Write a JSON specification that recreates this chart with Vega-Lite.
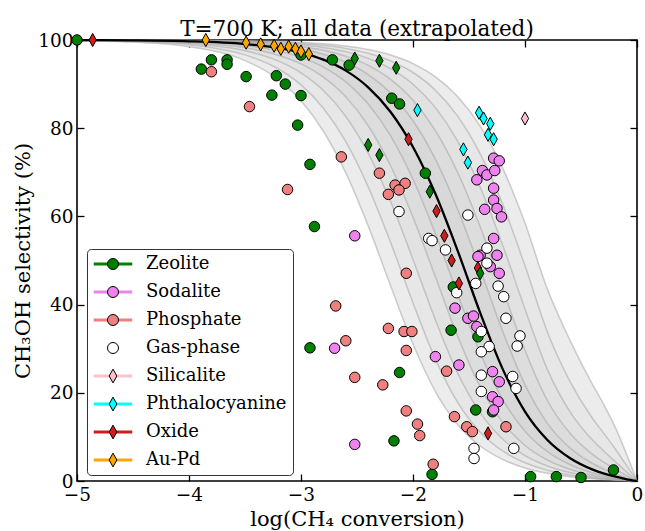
{
  "$schema": "https://vega.github.io/schema/vega-lite/v6.json",
  "width": 560,
  "height": 441,
  "autosize": {"type": "none"},
  "padding": {"left": 77, "top": 40, "right": 8, "bottom": 50},
  "background": "white",
  "title": {"text": "T=700 K; all data (extrapolated)", "font": "DejaVu Serif", "fontSize": 21.5, "fontWeight": "normal", "color": "black", "anchor": "middle", "frame": "group", "offset": -9},
  "config": {
    "view": {"stroke": "black", "strokeWidth": 1.6},
    "axis": {"labelFont": "DejaVu Serif", "labelFontSize": 18.5, "labelColor": "black", "tickColor": "black", "tickWidth": 1.3, "tickSize": -7, "domain": false, "grid": false, "titleFont": "DejaVu Serif", "titleFontSize": 21, "titleFontWeight": "normal", "titleColor": "black", "labelPadding": 11, "labelFlush": false}
  },
  "datasets": {
    "curves": [
      {"x":-5,"k1":99.99,"k2":99.99,"k3":99.99,"k4":99.99,"k5":99.98,"k6":99.97,"k7":99.96,"k8":99.94,"k9":99.92,"k10":99.89,"k11":99.85},
      {"x":-4.5,"k1":99.98,"k2":99.98,"k3":99.97,"k4":99.95,"k5":99.93,"k6":99.91,"k7":99.87,"k8":99.82,"k9":99.75,"k10":99.65,"k11":99.52},
      {"x":-4,"k1":99.94,"k2":99.92,"k3":99.89,"k4":99.85,"k5":99.79,"k6":99.71,"k7":99.6,"k8":99.44,"k9":99.22,"k10":98.91,"k11":98.49},
      {"x":-3.5,"k1":99.83,"k2":99.76,"k3":99.66,"k4":99.53,"k5":99.35,"k6":99.09,"k7":98.73,"k8":98.24,"k9":97.56,"k10":96.62,"k11":95.33},
      {"x":-3.25,"k1":99.69,"k2":99.57,"k3":99.4,"k4":99.17,"k5":98.84,"k6":98.39,"k7":97.76,"k8":96.9,"k9":95.72,"k10":94.1,"k11":91.9},
      {"x":-3,"k1":99.45,"k2":99.23,"k3":98.94,"k4":98.52,"k5":97.95,"k6":97.16,"k7":96.07,"k8":94.58,"k9":92.55,"k10":89.82,"k11":86.2},
      {"x":-2.8,"k1":99.13,"k2":98.79,"k3":98.32,"k4":97.67,"k5":96.77,"k6":95.54,"k7":93.86,"k8":91.58,"k9":88.54,"k10":84.51,"k11":79.31},
      {"x":-2.6,"k1":98.62,"k2":98.09,"k3":97.36,"k4":96.34,"k5":94.95,"k6":93.06,"k7":90.51,"k8":87.11,"k9":82.65,"k10":76.94,"k11":69.88},
      {"x":-2.4,"k1":97.83,"k2":96.98,"k3":95.84,"k4":94.26,"k5":92.14,"k6":89.27,"k7":85.47,"k8":80.55,"k9":74.31,"k10":66.7,"k11":57.85},
      {"x":-2.2,"k1":96.58,"k2":95.28,"k3":93.51,"k4":91.09,"k5":87.91,"k6":83.68,"k7":78.26,"k8":71.49,"k9":63.36,"k10":54.11,"k11":44.27},
      {"x":-2,"k1":94.65,"k2":92.63,"k3":89.97,"k4":86.35,"k5":81.7,"k6":75.74,"k7":68.43,"k8":59.81,"k9":50.25,"k10":40.38,"k11":31.06},
      {"x":-1.8,"k1":91.65,"k2":88.62,"k3":84.66,"k4":79.45,"k5":72.99,"k6":65.12,"k7":56.07,"k8":46.29,"k9":36.53,"k10":27.64,"k11":20.29},
      {"x":-1.6,"k1":87.12,"k2":82.67,"k3":77.03,"k4":69.91,"k5":61.56,"k6":52.12,"k7":42.25,"k8":32.74,"k9":24.42,"k10":17.76,"k11":12.77},
      {"x":-1.4,"k1":80.45,"k2":74.18,"k3":66.61,"k4":57.66,"k5":47.99,"k6":38.14,"k7":29.04,"k8":21.38,"k9":15.44,"k10":11.08,"k11":7.94},
      {"x":-1.2,"k1":71.0,"k2":62.78,"k3":53.53,"k4":43.57,"k5":33.98,"k6":25.42,"k7":18.5,"k8":13.3,"k9":9.52,"k10":6.82,"k11":4.89},
      {"x":-1,"k1":58.49,"k2":48.79,"k3":38.98,"k4":29.66,"k5":21.86,"k6":15.75,"k7":11.28,"k8":8.06,"k9":5.77,"k10":4.13,"k11":2.96},
      {"x":-0.8,"k1":43.51,"k2":33.8,"k3":25.26,"k4":18.25,"k5":13.07,"k6":9.31,"k7":6.65,"k8":4.76,"k9":3.41,"k10":2.44,"k11":1.75},
      {"x":-0.6,"k1":32.0,"k2":22.65,"k3":15.77,"k4":10.87,"k5":7.54,"k6":5.23,"k7":3.74,"k8":2.67,"k9":1.91,"k10":1.37,"k11":0.98},
      {"x":-0.4,"k1":22.0,"k2":14.29,"k3":9.34,"k4":6.1,"k5":4.02,"k6":2.65,"k7":1.89,"k8":1.35,"k9":0.97,"k10":0.69,"k11":0.5},
      {"x":-0.3,"k1":17.5,"k2":10.91,"k3":6.87,"k4":4.32,"k5":2.75,"k6":1.75,"k7":1.25,"k8":0.89,"k9":0.64,"k10":0.46,"k11":0.33},
      {"x":-0.2,"k1":12.5,"k2":7.49,"k3":4.54,"k4":2.74,"k5":1.68,"k6":1.03,"k7":0.73,"k8":0.52,"k9":0.38,"k10":0.27,"k11":0.19},
      {"x":-0.1,"k1":6.5,"k2":3.77,"k3":2.21,"k4":1.3,"k5":0.77,"k6":0.45,"k7":0.32,"k8":0.23,"k9":0.17,"k10":0.12,"k11":0.09},
      {"x":0,"k1":0,"k2":0,"k3":0,"k4":0,"k5":0,"k6":0,"k7":0,"k8":0,"k9":0,"k10":0,"k11":0}
    ],
    "pts": [
      {"cat":"Zeolite","x":-5,"y":100},
      {"cat":"Zeolite","x":-3.89,"y":93.4},
      {"cat":"Zeolite","x":-3.8,"y":95.5},
      {"cat":"Zeolite","x":-3.66,"y":95.5},
      {"cat":"Zeolite","x":-3.66,"y":94.5},
      {"cat":"Zeolite","x":-3.49,"y":91.7},
      {"cat":"Zeolite","x":-3.22,"y":91.9},
      {"cat":"Zeolite","x":-3.14,"y":90.0},
      {"cat":"Zeolite","x":-3.26,"y":87.5},
      {"cat":"Zeolite","x":-3.0,"y":87.4},
      {"cat":"Zeolite","x":-3.03,"y":80.7},
      {"cat":"Zeolite","x":-2.92,"y":71.8},
      {"cat":"Zeolite","x":-2.88,"y":57.7},
      {"cat":"Zeolite","x":-3.0,"y":96.6},
      {"cat":"Zeolite","x":-2.72,"y":95.5},
      {"cat":"Zeolite","x":-2.57,"y":94.3},
      {"cat":"Zeolite","x":-2.19,"y":86.8},
      {"cat":"Zeolite","x":-2.12,"y":85.5},
      {"cat":"Zeolite","x":-1.89,"y":69.8},
      {"cat":"Zeolite","x":-2.92,"y":30.2},
      {"cat":"Zeolite","x":-2.12,"y":24.6},
      {"cat":"Zeolite","x":-1.66,"y":34.2},
      {"cat":"Zeolite","x":-1.42,"y":32.7},
      {"cat":"Zeolite","x":-2.17,"y":9.1},
      {"cat":"Zeolite","x":-1.83,"y":1.5},
      {"cat":"Zeolite","x":-1.44,"y":16.1},
      {"cat":"Zeolite","x":-1.29,"y":15.7},
      {"cat":"Zeolite","x":-0.95,"y":1.0},
      {"cat":"Zeolite","x":-0.72,"y":1.0},
      {"cat":"Zeolite","x":-0.5,"y":0.8},
      {"cat":"Zeolite","x":-0.21,"y":2.5},
      {"cat":"Zeolite","x":-1.64,"y":44.0},
      {"cat":"Sodalite","x":-2.52,"y":55.6},
      {"cat":"Sodalite","x":-2.7,"y":30.1},
      {"cat":"Sodalite","x":-2.52,"y":8.3},
      {"cat":"Sodalite","x":-1.8,"y":28.2},
      {"cat":"Sodalite","x":-1.59,"y":26.3},
      {"cat":"Sodalite","x":-1.625,"y":39.2},
      {"cat":"Sodalite","x":-1.51,"y":36.9},
      {"cat":"Sodalite","x":-1.46,"y":37.4},
      {"cat":"Sodalite","x":-1.43,"y":35.0},
      {"cat":"Sodalite","x":-1.28,"y":55.0},
      {"cat":"Sodalite","x":-1.4,"y":51.2},
      {"cat":"Sodalite","x":-1.25,"y":51.2},
      {"cat":"Sodalite","x":-1.31,"y":48.6},
      {"cat":"Sodalite","x":-1.23,"y":47.1},
      {"cat":"Sodalite","x":-1.29,"y":24.8},
      {"cat":"Sodalite","x":-1.23,"y":22.5},
      {"cat":"Sodalite","x":-1.29,"y":19.1},
      {"cat":"Sodalite","x":-1.24,"y":18.0},
      {"cat":"Sodalite","x":-1.28,"y":16.1},
      {"cat":"Sodalite","x":-1.28,"y":73.2},
      {"cat":"Sodalite","x":-1.23,"y":72.6},
      {"cat":"Sodalite","x":-1.38,"y":70.4},
      {"cat":"Sodalite","x":-1.34,"y":69.4},
      {"cat":"Sodalite","x":-1.27,"y":70.4},
      {"cat":"Sodalite","x":-1.43,"y":68.3},
      {"cat":"Sodalite","x":-1.28,"y":66.4},
      {"cat":"Sodalite","x":-1.28,"y":63.7},
      {"cat":"Sodalite","x":-1.36,"y":61.6},
      {"cat":"Sodalite","x":-1.25,"y":61.8},
      {"cat":"Sodalite","x":-1.21,"y":59.9},
      {"cat":"Sodalite","x":-1.42,"y":50.9},
      {"cat":"Phosphate","x":-3.8,"y":92.8},
      {"cat":"Phosphate","x":-3.46,"y":84.9},
      {"cat":"Phosphate","x":-2.64,"y":73.5},
      {"cat":"Phosphate","x":-3.12,"y":66.1},
      {"cat":"Phosphate","x":-2.3,"y":69.8},
      {"cat":"Phosphate","x":-2.16,"y":67.1},
      {"cat":"Phosphate","x":-2.07,"y":67.5},
      {"cat":"Phosphate","x":-2.125,"y":66.0},
      {"cat":"Phosphate","x":-2.22,"y":65.0},
      {"cat":"Phosphate","x":-2.06,"y":47.1},
      {"cat":"Phosphate","x":-2.69,"y":39.7},
      {"cat":"Phosphate","x":-2.22,"y":34.6},
      {"cat":"Phosphate","x":-2.08,"y":33.9},
      {"cat":"Phosphate","x":-2.01,"y":33.9},
      {"cat":"Phosphate","x":-2.06,"y":29.6},
      {"cat":"Phosphate","x":-2.6,"y":31.8},
      {"cat":"Phosphate","x":-2.52,"y":23.5},
      {"cat":"Phosphate","x":-2.27,"y":21.8},
      {"cat":"Phosphate","x":-1.7,"y":24.9},
      {"cat":"Phosphate","x":-2.06,"y":15.9},
      {"cat":"Phosphate","x":-1.96,"y":12.9},
      {"cat":"Phosphate","x":-1.94,"y":10.3},
      {"cat":"Phosphate","x":-1.63,"y":14.6},
      {"cat":"Phosphate","x":-1.52,"y":12.3},
      {"cat":"Phosphate","x":-1.47,"y":11.2},
      {"cat":"Phosphate","x":-1.82,"y":3.8},
      {"cat":"Phosphate","x":-1.17,"y":12.3},
      {"cat":"Gas-phase","x":-2.125,"y":61.1},
      {"cat":"Gas-phase","x":-1.51,"y":60.3},
      {"cat":"Gas-phase","x":-1.86,"y":55.0},
      {"cat":"Gas-phase","x":-1.83,"y":54.5},
      {"cat":"Gas-phase","x":-1.71,"y":52.4},
      {"cat":"Gas-phase","x":-1.34,"y":52.8},
      {"cat":"Gas-phase","x":-1.34,"y":49.4},
      {"cat":"Gas-phase","x":-1.61,"y":42.7},
      {"cat":"Gas-phase","x":-1.44,"y":44.8},
      {"cat":"Gas-phase","x":-1.24,"y":44.2},
      {"cat":"Gas-phase","x":-1.19,"y":41.8},
      {"cat":"Gas-phase","x":-1.17,"y":36.9},
      {"cat":"Gas-phase","x":-1.39,"y":33.9},
      {"cat":"Gas-phase","x":-1.045,"y":32.9},
      {"cat":"Gas-phase","x":-1.07,"y":30.6},
      {"cat":"Gas-phase","x":-1.32,"y":30.5},
      {"cat":"Gas-phase","x":-1.39,"y":29.3},
      {"cat":"Gas-phase","x":-1.39,"y":24.0},
      {"cat":"Gas-phase","x":-1.11,"y":23.7},
      {"cat":"Gas-phase","x":-1.08,"y":21.0},
      {"cat":"Gas-phase","x":-1.39,"y":20.3},
      {"cat":"Gas-phase","x":-1.1,"y":7.4},
      {"cat":"Gas-phase","x":-1.455,"y":7.4},
      {"cat":"Gas-phase","x":-1.455,"y":5.1},
      {"cat":"Silicalite","x":-1.0,"y":82.2},
      {"cat":"Phthalocyanine","x":-1.96,"y":84.1},
      {"cat":"Phthalocyanine","x":-1.41,"y":83.5},
      {"cat":"Phthalocyanine","x":-1.37,"y":82.2},
      {"cat":"Phthalocyanine","x":-1.31,"y":81.0},
      {"cat":"Phthalocyanine","x":-1.33,"y":78.5},
      {"cat":"Phthalocyanine","x":-1.28,"y":77.5},
      {"cat":"Phthalocyanine","x":-1.55,"y":75.2},
      {"cat":"Phthalocyanine","x":-1.51,"y":72.2},
      {"cat":"Oxide","x":-4.86,"y":100},
      {"cat":"Oxide","x":-2.04,"y":77.5},
      {"cat":"Oxide","x":-1.79,"y":61.2},
      {"cat":"Oxide","x":-1.72,"y":55.6},
      {"cat":"Oxide","x":-1.655,"y":50.0},
      {"cat":"Oxide","x":-1.59,"y":44.8},
      {"cat":"Oxide","x":-1.33,"y":10.8},
      {"cat":"Oxide","x":-1.42,"y":48.3},
      {"cat":"Zeolite b","x":-2.52,"y":95.8},
      {"cat":"Zeolite b","x":-2.3,"y":95.3},
      {"cat":"Zeolite b","x":-2.15,"y":93.7},
      {"cat":"Zeolite b","x":-2.4,"y":76.2},
      {"cat":"Zeolite b","x":-2.3,"y":73.9},
      {"cat":"Zeolite b","x":-1.85,"y":65.6},
      {"cat":"Zeolite b","x":-1.4,"y":47.1},
      {"cat":"Au-Pd","x":-3.85,"y":100},
      {"cat":"Au-Pd","x":-3.49,"y":99.4},
      {"cat":"Au-Pd","x":-3.36,"y":99.0},
      {"cat":"Au-Pd","x":-3.24,"y":98.7},
      {"cat":"Au-Pd","x":-3.18,"y":98.0},
      {"cat":"Au-Pd","x":-3.11,"y":98.5},
      {"cat":"Au-Pd","x":-3.05,"y":98.0},
      {"cat":"Au-Pd","x":-3.0,"y":97.4},
      {"cat":"Au-Pd","x":-2.93,"y":96.8}
    ]
  },
  "layer": [
    {
      "data": {"name": "curves"},
      "mark": {"type": "area", "color": "#ececec", "opacity": 1, "interpolate": "monotone"},
      "encoding": {
        "x": {"field": "x", "type": "quantitative", "scale": {"domain": [-5, 0], "nice": false, "zero": false},
              "axis": {"values": [-5, -4, -3, -2, -1, 0], "format": "d", "title": "log(CH₄ conversion)", "titleBaseline": "alphabetic", "titleY": 44}},
        "y": {"field": "k1", "type": "quantitative", "scale": {"domain": [0, 100], "nice": false},
              "axis": {"values": [0, 20, 40, 60, 80, 100], "title": "CH₃OH selectivity (%)", "titleBaseline": "alphabetic", "titleX": -48, "titleY": 220.5}},
        "y2": {"field": "k11"}
      }
    },
    {
      "data": {"name": "curves"},
      "mark": {"type": "area", "color": "black", "opacity": 0.02, "interpolate": "monotone"},
      "encoding": {
        "x": {"field": "x", "type": "quantitative", "scale": {"domain": [-5, 0], "nice": false, "zero": false}, "axis": null},
        "y": {"field": "k2", "type": "quantitative", "scale": {"domain": [0, 100], "nice": false}, "axis": null},
        "y2": {"field": "k10"}
      }
    },
    {
      "data": {"name": "curves"},
      "mark": {"type": "area", "color": "black", "opacity": 0.02, "interpolate": "monotone"},
      "encoding": {
        "x": {"field": "x", "type": "quantitative", "scale": {"domain": [-5, 0], "nice": false, "zero": false}, "axis": null},
        "y": {"field": "k3", "type": "quantitative", "scale": {"domain": [0, 100], "nice": false}, "axis": null},
        "y2": {"field": "k9"}
      }
    },
    {
      "data": {"name": "curves"},
      "mark": {"type": "area", "color": "black", "opacity": 0.02, "interpolate": "monotone"},
      "encoding": {
        "x": {"field": "x", "type": "quantitative", "scale": {"domain": [-5, 0], "nice": false, "zero": false}, "axis": null},
        "y": {"field": "k4", "type": "quantitative", "scale": {"domain": [0, 100], "nice": false}, "axis": null},
        "y2": {"field": "k8"}
      }
    },
    {
      "data": {"name": "curves"},
      "mark": {"type": "area", "color": "black", "opacity": 0.02, "interpolate": "monotone"},
      "encoding": {
        "x": {"field": "x", "type": "quantitative", "scale": {"domain": [-5, 0], "nice": false, "zero": false}, "axis": null},
        "y": {"field": "k5", "type": "quantitative", "scale": {"domain": [0, 100], "nice": false}, "axis": null},
        "y2": {"field": "k7"}
      }
    },
    {
      "data": {"name": "curves"},
      "transform": [{"fold": ["k1", "k2", "k3", "k4", "k5", "k7", "k8", "k9", "k10", "k11"], "as": ["curve", "s"]}],
      "mark": {"type": "line", "color": "#a0a0a0", "opacity": 0.5, "strokeWidth": 1.5, "interpolate": "monotone"},
      "encoding": {
        "x": {"field": "x", "type": "quantitative", "scale": {"domain": [-5, 0], "nice": false, "zero": false}, "axis": null},
        "y": {"field": "s", "type": "quantitative", "scale": {"domain": [0, 100], "nice": false}, "axis": null},
        "detail": {"field": "curve", "type": "nominal"}
      }
    },
    {
      "data": {"name": "curves"},
      "mark": {"type": "line", "color": "black", "strokeWidth": 2.3, "interpolate": "monotone"},
      "encoding": {
        "x": {"field": "x", "type": "quantitative", "scale": {"domain": [-5, 0], "nice": false, "zero": false},
              "axis": {"orient": "top", "values": [-5, -4, -3, -2, -1, 0], "labels": false, "title": null}},
        "y": {"field": "k6", "type": "quantitative", "scale": {"domain": [0, 100], "nice": false},
              "axis": {"orient": "right", "values": [0, 20, 40, 60, 80, 100], "labels": false, "title": null}}
      }
    },
    {
      "data": {"name": "pts"},
      "transform": [{"fold": ["cat"], "as": ["key", "series"]}],
      "mark": {"type": "line", "opacity": 0, "strokeWidth": 3},
      "encoding": {
        "x": {"field": "x", "type": "quantitative", "scale": {"domain": [-5, 0], "nice": false, "zero": false}, "axis": null},
        "y": {"field": "y", "type": "quantitative", "scale": {"domain": [0, 100], "nice": false}, "axis": null},
        "stroke": {"field": "series", "type": "nominal",
          "scale": {"domain": ["Zeolite b", "Zeolite", "Sodalite", "Phosphate", "Gas-phase", "Silicalite", "Phthalocyanine", "Oxide", "Au-Pd"],
                    "range": ["#008000", "#008000", "#ee82ee", "#f08080", "#ffffff", "#ffc0cb", "#00ffff", "#d01c1c", "#ffa500"]},
          "legend": {"title": null, "values": ["Zeolite", "Sodalite", "Phosphate", "Gas-phase", "Silicalite", "Phthalocyanine", "Oxide", "Au-Pd"],
                     "orient": "none", "legendX": 10, "legendY": 209, "padding": 6, "rowPadding": 10,
                     "labelFont": "DejaVu Serif", "labelFontSize": 18, "labelColor": "black", "labelOffset": 24,
                     "symbolType": "M-3.5,0L3.5,0", "symbolSize": 121, "symbolOffset": 11, "symbolStrokeWidth": 3, "symbolOpacity": 1,
                     "fillColor": "white", "strokeColor": "#333333", "cornerRadius": 4, "zindex": 1}}
      }
    },
    {
      "data": {"name": "pts"},
      "mark": {"type": "point", "filled": true, "opacity": 1, "size": 110, "stroke": "black", "strokeWidth": 1},
      "encoding": {
        "x": {"field": "x", "type": "quantitative", "scale": {"domain": [-5, 0], "nice": false, "zero": false}, "axis": null},
        "y": {"field": "y", "type": "quantitative", "scale": {"domain": [0, 100], "nice": false}, "axis": null},
        "fill": {"field": "cat", "type": "nominal",
          "scale": {"domain": ["Zeolite", "Sodalite", "Phosphate", "Gas-phase", "Silicalite", "Phthalocyanine", "Oxide", "Au-Pd", "Zeolite b"],
                    "range": ["#008000", "#ee82ee", "#f08080", "#ffffff", "#ffc0cb", "#00ffff", "#d01c1c", "#ffa500", "#008000"]},
          "legend": {"title": null, "values": ["Zeolite", "Sodalite", "Phosphate", "Gas-phase", "Silicalite", "Phthalocyanine", "Oxide", "Au-Pd"],
                     "orient": "none", "legendX": 10, "legendY": 209, "padding": 6, "rowPadding": 10,
                     "labelFont": "DejaVu Serif", "labelFontSize": 18, "labelOpacity": 0, "labelOffset": 24,
                     "symbolSize": 121, "symbolOffset": 11, "symbolStrokeColor": "black", "symbolStrokeWidth": 1, "symbolOpacity": 1, "zindex": 2,
                     "encode": {"symbols": {"update": {"stroke": {"value": "black"}, "strokeWidth": {"value": 1}}}}}},
        "shape": {"field": "cat", "type": "nominal",
          "scale": {"domain": ["Zeolite", "Sodalite", "Phosphate", "Gas-phase", "Silicalite", "Phthalocyanine", "Oxide", "Au-Pd", "Zeolite b"],
                    "range": ["circle", "circle", "circle", "circle", "M0,-1.25L0.7,0L0,1.25L-0.7,0Z", "M0,-1.25L0.7,0L0,1.25L-0.7,0Z", "M0,-1.25L0.7,0L0,1.25L-0.7,0Z", "M0,-1.25L0.7,0L0,1.25L-0.7,0Z", "M0,-1.25L0.7,0L0,1.25L-0.7,0Z"]},
          "legend": {"title": null, "values": ["Zeolite", "Sodalite", "Phosphate", "Gas-phase", "Silicalite", "Phthalocyanine", "Oxide", "Au-Pd"],
                     "orient": "none", "legendX": 10, "legendY": 209, "padding": 6, "rowPadding": 10,
                     "labelFont": "DejaVu Serif", "labelFontSize": 18, "labelOpacity": 0, "labelOffset": 24,
                     "symbolSize": 121, "symbolOffset": 11, "symbolStrokeColor": "black", "symbolStrokeWidth": 1, "symbolOpacity": 1, "zindex": 2,
                     "encode": {"symbols": {"update": {"stroke": {"value": "black"}, "strokeWidth": {"value": 1}}}}}}
      }
    }
  ],
  "resolve": {"axis": {"x": "independent", "y": "independent"}}
}
